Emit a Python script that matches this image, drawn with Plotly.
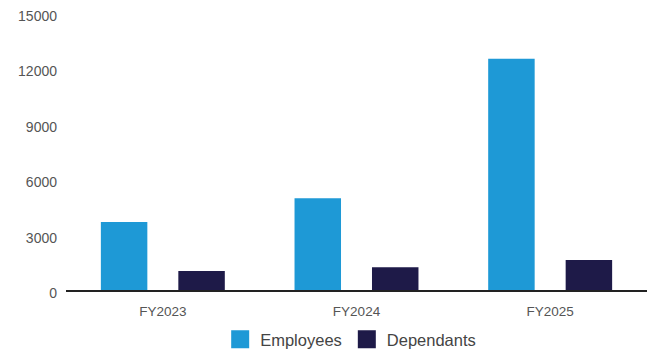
import plotly.graph_objects as go

years = ["FY2023", "FY2024", "FY2025"]
employees = [3680, 4970, 12520]
dependants = [1030, 1230, 1620]
y_ticks = [0, 3000, 6000, 9000, 12000, 15000]

EMP_COLOR = "#1e99d6"
DEP_COLOR = "#1e1a48"
TEXT = "#555555"
FONT = "Liberation Sans, Arial, sans-serif"

fig = go.Figure()
fig.add_trace(go.Bar(x=years, y=employees, name="Employees",
                     marker=dict(color=EMP_COLOR, line=dict(width=0)),
                     showlegend=False))
fig.add_trace(go.Bar(x=years, y=dependants, name="Dependants",
                     marker=dict(color=DEP_COLOR, line=dict(width=0)),
                     showlegend=False))

# legend entries with larger square swatches
for name, col in [("Employees", EMP_COLOR), ("Dependants", DEP_COLOR)]:
    fig.add_trace(go.Scatter(x=[None], y=[None], mode="markers", name=name,
                             marker=dict(symbol="square", size=16, color=col,
                                         line=dict(color=col, width=2))))

fig.update_layout(
    width=647, height=357,
    margin=dict(l=66, r=0, t=13, b=66),
    paper_bgcolor="white", plot_bgcolor="white",
    barmode="group", bargap=0.2, bargroupgap=0.4,
    font=dict(family=FONT, color=TEXT),
    legend=dict(orientation="h", x=0.49, xanchor="center", y=-0.18, yanchor="middle",
                font=dict(size=16.5, color="#444444", family=FONT),
                itemsizing="trace", traceorder="normal"),
    xaxis=dict(showline=True, linecolor="#222222", linewidth=2, showgrid=False,
               ticks="", tickfont=dict(size=13.5, color=TEXT), ticklabelstandoff=8),
    yaxis=dict(range=[0, 15000], tickvals=y_ticks, ticktext=[str(v) for v in y_ticks],
               showgrid=False, zeroline=False, showline=False, ticks="",
               tickfont=dict(size=14, color=TEXT), ticklabelstandoff=8,
               ticklabelshift=3),
)

fig.write_html("out.html")
